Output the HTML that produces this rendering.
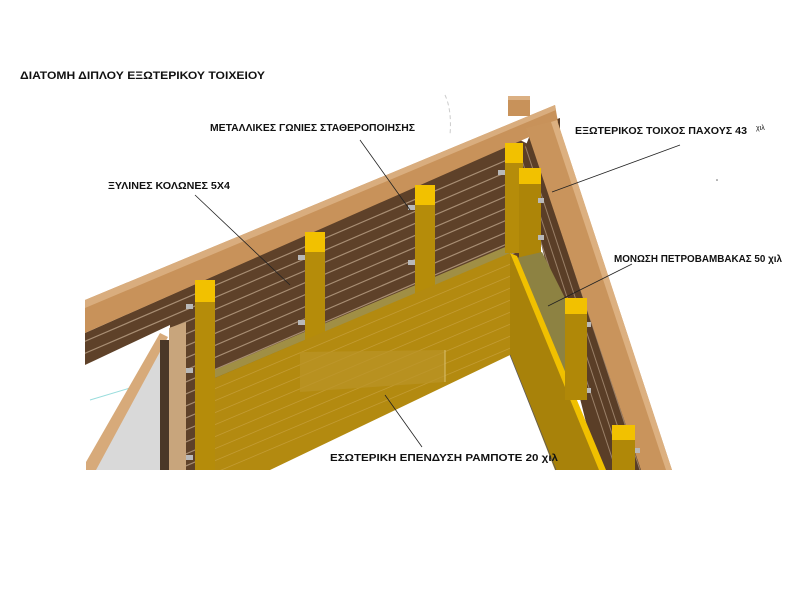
<!DOCTYPE html>
<html><head><meta charset="utf-8"><style>
html,body{margin:0;padding:0;background:#fff;}
svg{display:block;}
text{font-family:"Liberation Sans",sans-serif;fill:#111;}
</style></head><body>
<svg width="800" height="600" viewBox="0 0 800 600" xmlns="http://www.w3.org/2000/svg">
<defs>
<clipPath id="lw"><polygon points="85,333 520,140 540,150 540,300 203,470 170,470 170,325 85,365"/></clipPath>
<clipPath id="rw"><polygon points="520,160 530,135 642,470 598,470"/></clipPath>
<clipPath id="pn"><polygon points="203,383 510,253 510,355 270,470 203,470"/></clipPath>
</defs>
<rect width="800" height="600" fill="#fff"/>
<text x="20" y="79" font-size="11" font-weight="bold" textLength="245" lengthAdjust="spacingAndGlyphs">ΔΙΑΤΟΜΗ ΔΙΠΛΟΥ  ΕΞΩΤΕΡΙΚΟΥ ΤΟΙΧΕΙΟΥ</text>

<path d="M445,95 Q452,110 450,135" stroke="#ccc" stroke-width="1" stroke-dasharray="4,3" fill="none"/>
<line x1="90" y1="400" x2="140" y2="385" stroke="#9dd" stroke-width="1"/>
<line x1="120" y1="468" x2="150" y2="458" stroke="#9d9" stroke-width="1"/>

<polygon points="85,333 520,140 540,150 540,300 203,470 170,470 170,325 85,365" fill="#5e4129"/>
<g clip-path="url(#lw)" stroke="#a88e74" stroke-width="1.2">
<line x1="60" y1="352" x2="600" y2="120"/><line x1="60" y1="364" x2="600" y2="132"/>
<line x1="60" y1="376" x2="600" y2="144"/><line x1="60" y1="388" x2="600" y2="156"/>
<line x1="60" y1="400" x2="600" y2="168"/><line x1="60" y1="412" x2="600" y2="180"/>
<line x1="60" y1="424" x2="600" y2="192"/><line x1="60" y1="436" x2="600" y2="204"/>
<line x1="60" y1="448" x2="600" y2="216"/><line x1="60" y1="460" x2="600" y2="228"/>
<line x1="60" y1="472" x2="600" y2="240"/><line x1="60" y1="484" x2="600" y2="252"/>
<line x1="60" y1="496" x2="600" y2="264"/><line x1="60" y1="508" x2="600" y2="276"/>
<line x1="60" y1="520" x2="600" y2="288"/><line x1="60" y1="532" x2="600" y2="300"/>
</g>

<polygon points="520,160 530,135 642,470 598,470" fill="#5a3e27"/>
<g clip-path="url(#rw)" stroke="#9a8068" stroke-width="1">
<line x1="520" y1="130" x2="632" y2="470"/><line x1="528" y1="130" x2="640" y2="470"/>
<line x1="512" y1="130" x2="624" y2="470"/><line x1="504" y1="130" x2="616" y2="470"/>
<line x1="536" y1="130" x2="648" y2="470"/>
</g>
<polygon points="540,125 560,118 560,165 548,160" fill="#5a3e27"/>

<polygon points="93,470 160,345 160,470" fill="#d9d9d9"/>
<polygon points="86,462 160,333 168,337 96,470 86,470" fill="#d7aa7a"/>
<rect x="160" y="340" width="9" height="130" fill="#4a3828"/>
<polygon points="169,328 186,322 186,470 169,470" fill="#c8a57c"/>

<polygon points="85,300 555,105 558,122 545,130 85,333" fill="#c8925a"/>
<polygon points="85,300 555,105 556,110 85,308" fill="#d9ad7e"/>
<rect x="508" y="96" width="22" height="20" fill="#c8925a"/>
<rect x="508" y="96" width="22" height="4" fill="#dbb083"/>
<polygon points="526,128 557,120 672,470 641,470" fill="#c9945c"/>
<polygon points="551,122 557,120 672,470 666,470" fill="#dcb080"/>

<polygon points="203,375 510,245 512,253 203,383" fill="#a08f45"/>

<rect x="305" y="232" width="20" height="110" fill="#b58c0a"/><rect x="305" y="232" width="20" height="20" fill="#f2c100"/>
<rect x="415" y="185" width="20" height="110" fill="#b58c0a"/><rect x="415" y="185" width="20" height="20" fill="#f2c100"/>
<rect x="505" y="143" width="18" height="110" fill="#b58c0a"/><rect x="505" y="143" width="18" height="20" fill="#f2c100"/>
<rect x="519" y="168" width="22" height="95" fill="#ad8508"/><rect x="519" y="168" width="22" height="16" fill="#f2c100"/>
<g fill="#b9b9b9">
<rect x="186" y="304" width="7" height="5"/><rect x="186" y="368" width="7" height="5"/><rect x="186" y="455" width="7" height="5"/>
<rect x="298" y="255" width="7" height="5"/><rect x="298" y="320" width="7" height="5"/>
<rect x="408" y="205" width="7" height="5"/><rect x="408" y="260" width="7" height="5"/>
<rect x="498" y="170" width="7" height="5"/><rect x="538" y="198" width="6" height="5"/><rect x="538" y="235" width="6" height="5"/>
<rect x="585" y="322" width="6" height="5"/><rect x="585" y="388" width="6" height="5"/><rect x="634" y="448" width="6" height="5"/>
</g>

<polygon points="516,258 542,252 566,300 566,400 560,402" fill="#8d8242"/>

<polygon points="203,383 510,253 510,355 270,470 203,470" fill="#b38a10"/>
<g clip-path="url(#pn)" stroke="#c39c34" stroke-width="0.8">
<line x1="200" y1="395" x2="520" y2="260"/><line x1="200" y1="407" x2="520" y2="272"/>
<line x1="200" y1="419" x2="520" y2="284"/><line x1="200" y1="431" x2="520" y2="296"/>
<line x1="200" y1="443" x2="520" y2="308"/><line x1="200" y1="455" x2="520" y2="320"/>
<line x1="200" y1="467" x2="520" y2="332"/><line x1="200" y1="479" x2="520" y2="344"/>
</g>
<polygon points="300,352 445,350 445,382 300,392" fill="#bb9428" opacity="0.7"/>
<line x1="445" y1="350" x2="445" y2="382" stroke="#d8c070" stroke-width="1"/>
<polygon points="510,253 600,470 555,470 510,355" fill="#a8820a"/>
<polygon points="510,253 517,256 606,470 599,470" fill="#f0c000"/>
<line x1="510" y1="355" x2="556" y2="470" stroke="#556" stroke-width="0.7"/>

<rect x="195" y="280" width="20" height="190" fill="#b58c0a"/><rect x="195" y="280" width="20" height="22" fill="#f2c100"/>
<rect x="565" y="298" width="22" height="102" fill="#b08808"/><rect x="565" y="298" width="22" height="16" fill="#f2c100"/>
<rect x="612" y="425" width="23" height="45" fill="#b08808"/><rect x="612" y="425" width="23" height="15" fill="#f2c100"/>

<g stroke="#222" stroke-width="0.8">
<line x1="360" y1="140" x2="410" y2="210"/>
<line x1="195" y1="195" x2="290" y2="285"/>
<line x1="680" y1="145" x2="552" y2="192"/>
<line x1="632" y1="264" x2="548" y2="306"/>
<line x1="422" y1="447" x2="385" y2="395"/>
</g>
<circle cx="717" cy="180" r="0.8" fill="#666"/>

<g font-weight="bold">
<text x="210" y="131" font-size="10" textLength="205" lengthAdjust="spacingAndGlyphs">ΜΕΤΑΛΛΙΚΕΣ ΓΩΝΙΕΣ ΣΤΑΘΕΡΟΠΟΙΗΣΗΣ</text>
<text x="108" y="189" font-size="10" textLength="122" lengthAdjust="spacingAndGlyphs">ΞΥΛΙΝΕΣ ΚΟΛΩΝΕΣ 5Χ4</text>
<text x="575" y="134" font-size="10" textLength="172" lengthAdjust="spacingAndGlyphs">ΕΞΩΤΕΡΙΚΟΣ ΤΟΙΧΟΣ ΠΑΧΟΥΣ  43</text>
<text x="614" y="262" font-size="10" textLength="168" lengthAdjust="spacingAndGlyphs">ΜΟΝΩΣΗ ΠΕΤΡΟΒΑΜΒΑΚΑΣ 50 χιλ</text>
<text x="330" y="461" font-size="10" textLength="228" lengthAdjust="spacingAndGlyphs">ΕΣΩΤΕΡΙΚΗ ΕΠΕΝΔΥΣΗ ΡΑΜΠΟΤΕ 20 χιλ</text>
</g>
<text x="756" y="130" font-size="7">χιλ</text>
</svg>
</body></html>
